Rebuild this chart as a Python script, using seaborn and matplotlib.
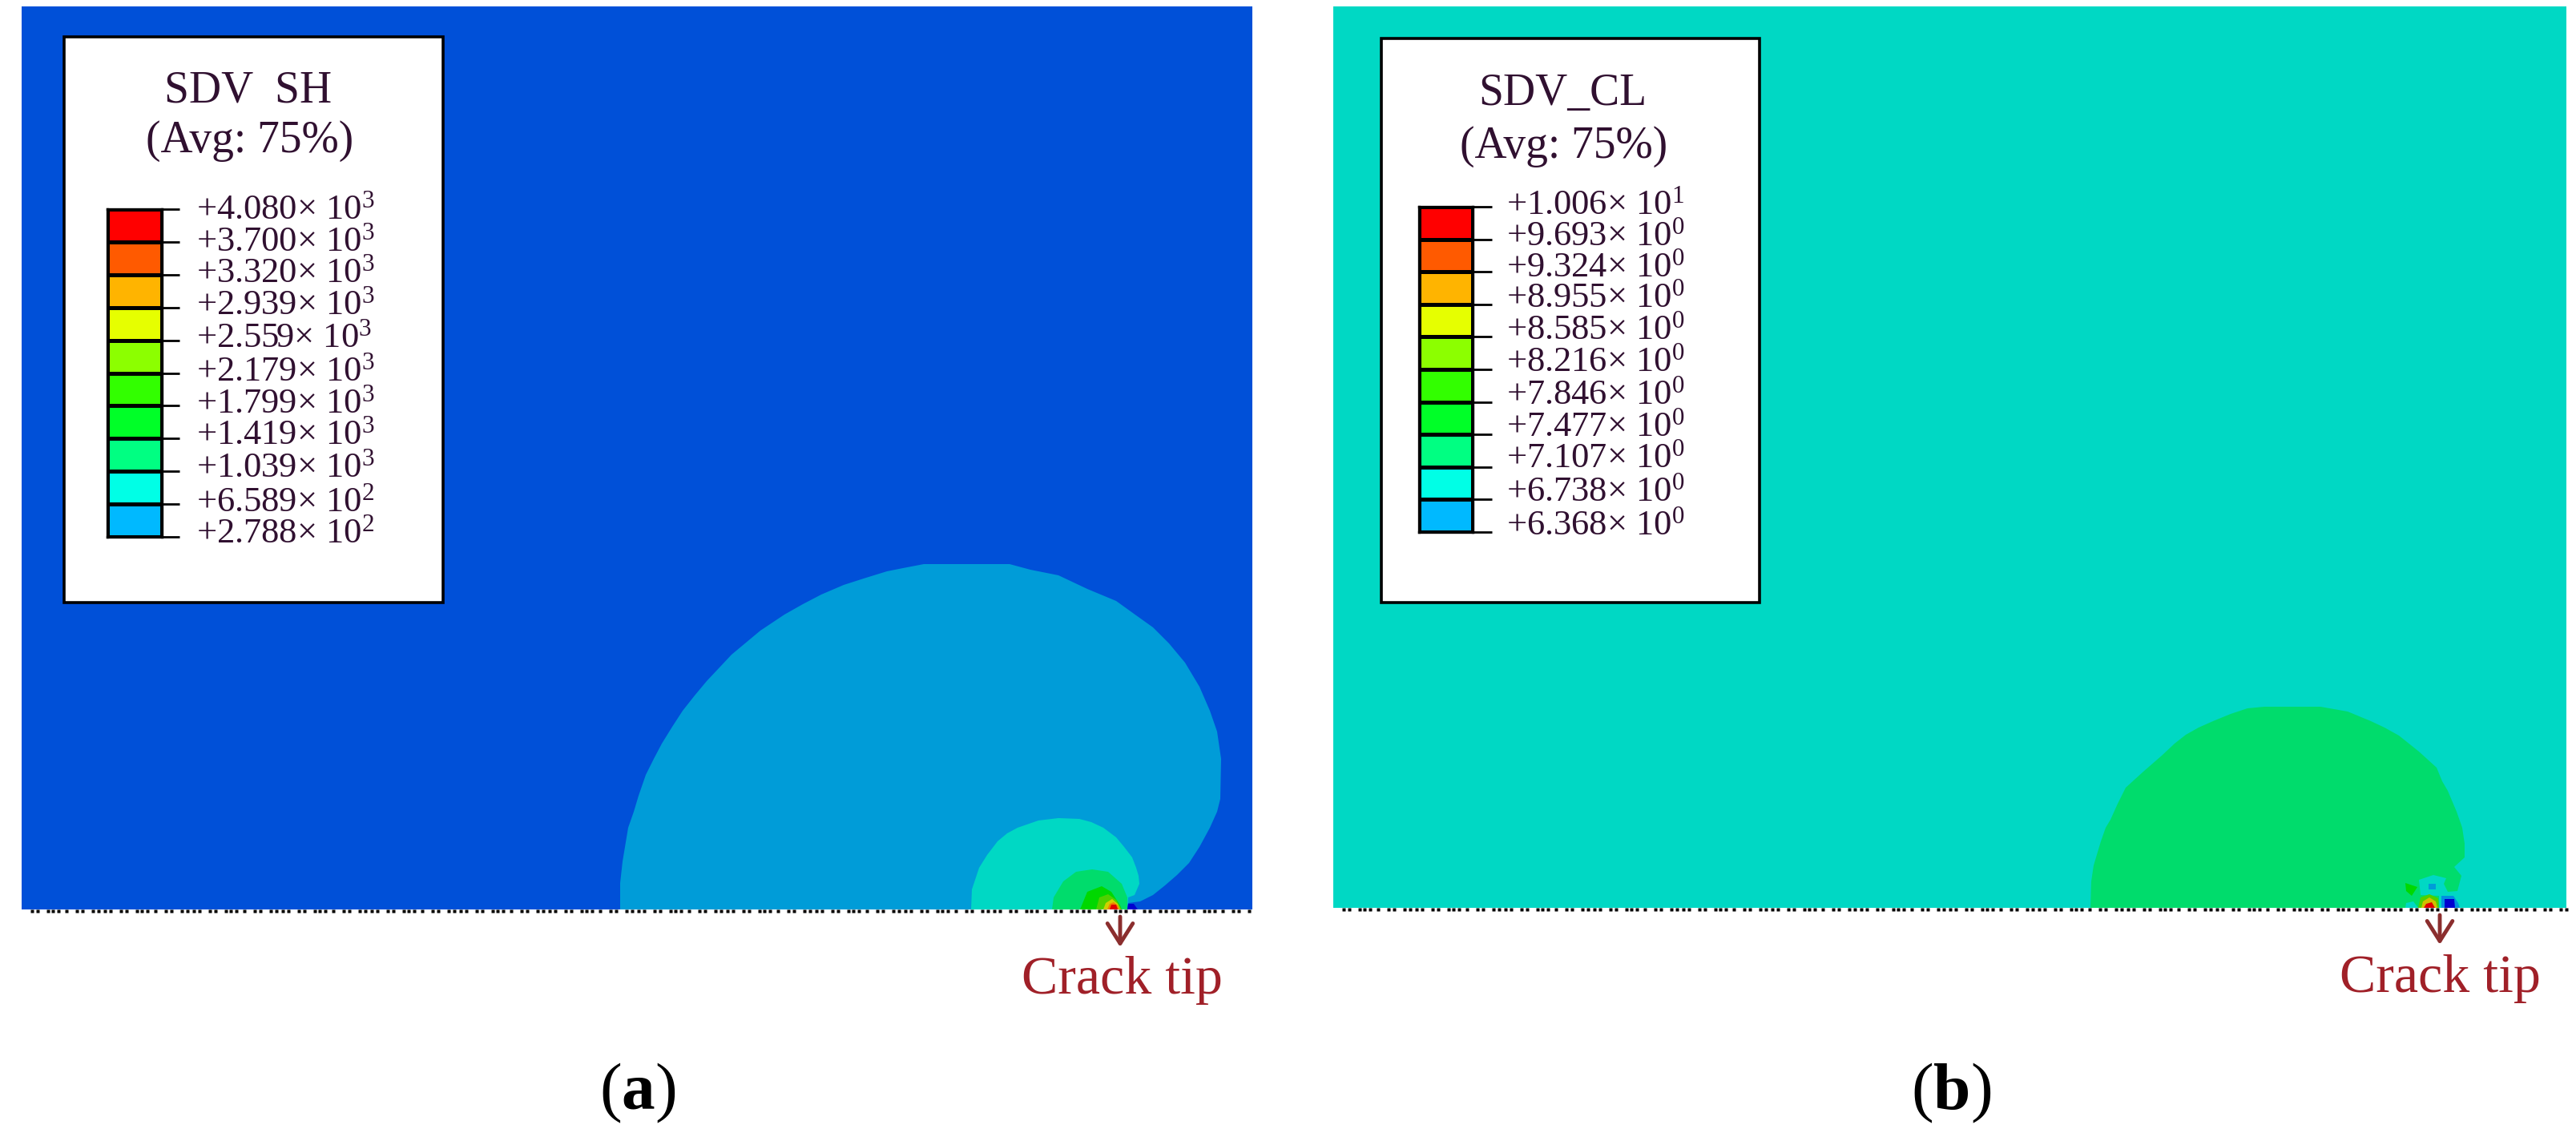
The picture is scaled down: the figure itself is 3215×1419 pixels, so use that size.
import numpy as np
import matplotlib
matplotlib.use("Agg")
import matplotlib.pyplot as plt
from matplotlib.colors import ListedColormap, BoundaryNorm
import seaborn as sns

W, H = 3215, 1419

# ---------- data ----------
sh_mant = ["4.080", "3.700", "3.320", "2.939", "2.559", "2.179", "1.799", "1.419", "1.039", "6.589", "2.788"]
sh_exp = [3, 3, 3, 3, 3, 3, 3, 3, 3, 2, 2]
cl_mant = ["1.006", "9.693", "9.324", "8.955", "8.585", "8.216", "7.846", "7.477", "7.107", "6.738", "6.368"]
cl_exp = [1, 0, 0, 0, 0, 0, 0, 0, 0, 0, 0]
band_colors = ["#00B9FF", "#00FFE6", "#00FF82", "#00FF28", "#32FF00",
               "#8CFF00", "#E6FF00", "#FFB400", "#FF5A00", "#FF0000"]

# contour outlines (reference pixel coordinates)
a_x1 = [774,774,777,780,784,791,797,806,816,826,839,852,867,882,898,913,931,949,979,1002,1025,1053,1081,1107,1127,1153,1260,1286,1321,1357,1393,1418,1439,1459,1479,1497,1510,1519,1524,1523,1519,1510,1497,1484,1469,1454,1439,1423,1408,1407]
a_y1 = [1135,1102,1075,1057,1033,1013,993,967,947,928,907,887,868,850,833,817,802,787,767,754,742,730,721,713,709,704,704,711,718,735,750,768,783,803,827,857,887,913,947,997,1013,1033,1057,1077,1092,1105,1117,1125,1127,1135]
a_x2 = [1212,1213,1222,1232,1245,1257,1270,1296,1321,1347,1362,1377,1393,1403,1413,1418,1421,1422,1416,1408,1407]
a_y2 = [1135,1110,1083,1067,1050,1040,1033,1024,1021,1022,1026,1033,1045,1057,1070,1083,1093,1103,1117,1120,1135]
a_x3 = [1313,1315,1327,1343,1363,1383,1400,1407,1407]
a_y3 = [1135,1120,1100,1088,1085,1088,1103,1120,1135]
a_x4 = [1348,1357,1375,1387,1398,1400]
a_y4 = [1135,1113,1106,1113,1130,1135]
a_x5 = [1368,1372,1383,1393,1400]
a_y5 = [1135,1120,1116,1123,1135]
a_x6 = [1377,1380,1388,1395,1398]
a_y6 = [1135,1127,1122,1128,1135]
a_x7 = [1382,1385,1390,1395,1397]
a_y7 = [1135,1128,1126,1130,1135]
a_x8 = [1385,1387,1393,1395]
a_y8 = [1135,1129,1129,1135]
a_x9 = [1407,1408,1415,1420]
a_y9 = [1135,1128,1128,1135]

b_x1 = [2609,2610,2613,2616,2622,2628,2634,2643,2653,2664,2675,2698,2714,2728,2744,2762,2784,2805,2826,2896,2930,2959,2976,2994,3019,3041,3048,3055,3066,3073,3076,3076,3063,3072,3067,3055,3050,3053,3037,3019,3021,3044,3044]
b_y1 = [1133,1100,1080,1070,1050,1033,1023,1003,983,973,963,943,928,917,908,900,891,884,882,882,888,900,908,918,938,958,975,987,1013,1033,1053,1070,1082,1093,1112,1113,1103,1096,1092,1098,1117,1118,1133]
b_x2 = [3002,3017,3010,3003]
b_y2 = [1102,1107,1118,1112]
b_x3 = [3031,3040,3040,3031]
b_y3 = [1103,1103,1110,1110]
b_x4 = [3002,3003,3012,3018]
b_y4 = [1133,1127,1125,1133]
b_x5 = [3018,3021,3032,3043,3044]
b_y5 = [1133,1120,1116,1121,1133]
b_x6 = [3022,3024,3032,3040,3042]
b_y6 = [1133,1125,1120,1125,1133]
b_x7 = [3025,3028,3035,3039]
b_y7 = [1133,1128,1126,1133]
b_x8 = [3047,3047,3062,3068,3070]
b_y8 = [1133,1118,1118,1127,1133]
b_x9 = [3051,3051,3063,3064]
b_y9 = [1133,1122,1122,1133]

dot_gaps = [13, 7, 13, 6, 7, 10, 13, 7, 13, 7, 8, 7]

# ---------- layout ----------
sns.set_theme(style="white")
plt.rcParams["font.family"] = ["Liberation Serif", "DejaVu Serif"]
plt.rcParams["mathtext.fontset"] = "custom"
plt.rcParams["mathtext.rm"] = "Liberation Serif"
plt.rcParams["mathtext.it"] = "Liberation Serif:italic"
plt.rcParams["mathtext.bf"] = "Liberation Serif:bold"

BG_A, C2, C3, C4, C5 = "#0050D8", "#009CD8", "#00D8C4", "#00DC6C", "#00D800"
CRACK = "#A02028"

fig = plt.figure(figsize=(W / 100, H / 100), dpi=100, facecolor="white")
ax = fig.add_axes([0, 0, 1, 1])
ax.set_xlim(0, W)
ax.set_ylim(H, 0)
ax.axis("off")

def rect(x0, x1, y0, y1, **kw):
    ax.fill([x0, x1, x1, x0], [y0, y0, y1, y1], lw=0, **kw)

rect(27, 1563, 8, 1135, color=BG_A, zorder=1)
rect(1664, 3203, 8, 1133, color=C3, zorder=1)

for xs, ys, c in [(a_x1, a_y1, C2), (a_x2, a_y2, C3), (a_x3, a_y3, C4), (a_x4, a_y4, C5),
                  (a_x5, a_y5, "#50D000"), (a_x6, a_y6, "#D0D000"), (a_x7, a_y7, "#F08000"),
                  (a_x8, a_y8, "#E00000"), (a_x9, a_y9, "#0000D0"),
                  (b_x1, b_y1, C4), (b_x2, b_y2, C5), (b_x3, b_y3, C2), (b_x4, b_y4, C3),
                  (b_x5, b_y5, "#50D000"), (b_x6, b_y6, "#D0C000"), (b_x7, b_y7, "#E00000"),
                  (b_x8, b_y8, "#0090E0"), (b_x9, b_y9, "#0000D0")]:
    ax.fill(xs, ys, color=c, lw=0, zorder=2)

# dotted crack plane
for x0, x1, y in [(27, 1566, 1137), (1664, 3206, 1135)]:
    xs = x0 + np.cumsum(np.resize(dot_gaps, 220))
    xs = xs[xs < x1]
    ax.plot(xs, np.full(xs.shape, y), ls="none", marker="s", ms=2.9, mfc="black", mec="none", zorder=3)

# legend boxes
for x0, x1, y0, y1 in [(80, 553, 46, 752), (1724, 2196, 48, 752)]:
    ax.fill([x0, x1, x1, x0], [y0, y0, y1, y1], facecolor="white", edgecolor="black", lw=2.6, zorder=4)

def legend_bar(mant, exp, bx0, bx1, by0, by1, tx, baselines, tick_len):
    vals = np.array([float(m) * 10.0 ** e for m, e in zip(mant, exp)])
    mids = (vals[:-1] + vals[1:]) / 2
    axb = fig.add_axes([bx0 / W, 1 - by1 / H, (bx1 - bx0) / W, (by1 - by0) / H])
    sns.heatmap(mids.reshape(-1, 1), ax=axb, cmap=ListedColormap(band_colors),
                norm=BoundaryNorm(vals[::-1], len(band_colors)), cbar=False,
                linewidths=2.4, linecolor="black", xticklabels=False, yticklabels=False)
    axb.set_xlabel("")
    axb.set_ylabel("")
    for s in axb.spines.values():
        s.set_visible(True)
        s.set_color("black")
        s.set_linewidth(2.4)
    axb.yaxis.tick_right()
    axb.set_yticks(np.arange(len(vals)))
    axb.set_yticklabels([])
    axb.tick_params(axis="y", right=True, left=False, length=tick_len * 0.72, width=2.0, color="black")
    for m, e, y in zip(mant, exp, baselines):
        ax.text(tx, y, rf"+{m}$\times$ $10^{{{e}}}$", fontsize=32, color="#301030",
                ha="left", va="baseline", zorder=6)

legend_bar(sh_mant, sh_exp, 134, 202, 261, 670, 245,
           [273, 313, 352, 392, 433, 475, 515, 554, 595, 638, 677], 22)
legend_bar(cl_mant, cl_exp, 1771, 1838, 258, 664, 1880,
           [267, 306, 345, 383, 423, 463, 504, 544, 583, 625, 667], 24)

for cx, y1, y2, t in [(310, 128, 190, "SDV  SH"), (1950, 131, 197, "SDV_CL")]:
    ax.text(cx, y1, t, fontsize=40, color="#301030", ha="center", va="baseline", zorder=6)
    ax.text(cx + 2, y2, "(Avg: 75%)", fontsize=40, color="#301030", ha="center", va="baseline", zorder=6)

# crack tip annotations
for ax_x, y0, y1, tx0, base in [(1398, 1144, 1182, 1275, 1240), (3045, 1142, 1179, 2920, 1238)]:
    ax.annotate("", xy=(ax_x, y1), xytext=(ax_x, y0),
                arrowprops=dict(arrowstyle="->,head_length=1.5,head_width=0.95", color="#8B2E2E", lw=3.5,
                                shrinkA=0, shrinkB=0), zorder=6)
    ax.text(tx0, base, "Crack tip", fontsize=49, color=CRACK, ha="left", va="baseline", zorder=6)

ax.text(796, 1384, r"($\mathbf{a}$)", fontsize=60, color="black", ha="center", va="baseline")
ax.text(2435, 1384, r"($\mathbf{b}$)", fontsize=60, color="black", ha="center", va="baseline")

fig.savefig("out.png", dpi=100, facecolor="white")
